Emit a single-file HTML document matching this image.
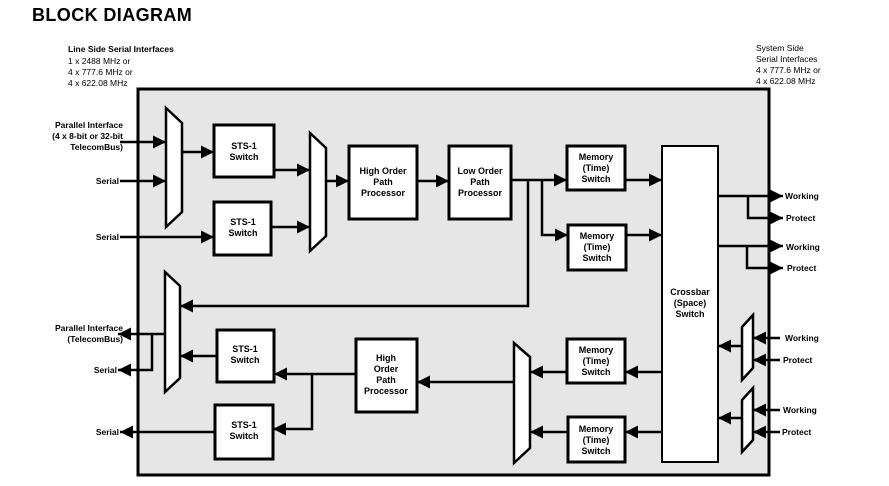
<!DOCTYPE html>
<html><head><style>body{margin:0;background:#fff}svg text{font-family:"Liberation Sans",sans-serif;font-size:9px;fill:#000}</style></head><body>
<svg width="889" height="481" viewBox="0 0 889 481" xmlns="http://www.w3.org/2000/svg">
<defs>
<marker id="b" viewBox="0 0 10 10" markerWidth="13" markerHeight="13" refX="10" refY="5" orient="auto" markerUnits="userSpaceOnUse"><path d="M0,0 L10,5 L0,10Z" fill="#000"/></marker></defs>
<text x="32" y="21" style="font-size:18px;font-weight:bold;letter-spacing:0.4px">BLOCK DIAGRAM</text>
<text x="68" y="52" style="font-weight:bold;font-size:8.5px">Line Side Serial Interfaces</text>
<text x="68" y="64" style="font-size:8.5px">1 x 2488 MHz or</text>
<text x="68" y="75" style="font-size:8.5px">4 x 777.6  MHz or</text>
<text x="68" y="86" style="font-size:8.5px">4 x 622.08 MHz</text>
<text x="756" y="51" style="font-size:8.5px">System Side</text>
<text x="756" y="62" style="font-size:8.5px">Serial Interfaces</text>
<text x="756" y="73" style="font-size:8.5px">4 x 777.6 MHz or</text>
<text x="756" y="84" style="font-size:8.5px">4 x 622.08 MHz</text>
<rect x="138" y="89" width="631" height="386" fill="#e6e6e6" stroke="#000" stroke-width="3"/>
<g stroke="#000" stroke-width="3" fill="#fff">
<path d="M166,108 L182,123 L182,212 L166,227Z" stroke-width="2.5"/>
<path d="M310,133 L326,148 L326,236 L310,251Z" stroke-width="2.5"/>
<path d="M165,392 L180,378 L180,286 L165,272Z" stroke-width="2.5"/>
<path d="M514,463 L530,448 L530,357 L514,343Z" stroke-width="2.5"/>
<path d="M742,380 L753,368 L753,315 L742,327Z" stroke-width="2.5"/>
<path d="M742,452 L753,440 L753,388 L742,400Z" stroke-width="2.5"/>
<rect x="214" y="125" width="60" height="52"/>
<rect x="214" y="202" width="57" height="53"/>
<rect x="349" y="146" width="68" height="73"/>
<rect x="449" y="146" width="62" height="73"/>
<rect x="567" y="146" width="58" height="44"/>
<rect x="568" y="225" width="58" height="45"/>
<rect x="662" y="146" width="56" height="316" stroke-width="2"/>
<rect x="567" y="339" width="58" height="44"/>
<rect x="568" y="417" width="57" height="45"/>
<rect x="356" y="339" width="61" height="73"/>
<rect x="217" y="330" width="57" height="52"/>
<rect x="215" y="405" width="58" height="54"/>
</g>
<g stroke="#000" stroke-width="2.5" fill="none" marker-end="url(#b)">
<path d="M120,142 H166"/><path d="M120,181 H166"/><path d="M120,237 H214"/>
<path d="M182,152 H214"/><path d="M274,170 H310"/><path d="M271,227 H310"/>
<path d="M326,181 H349"/><path d="M417,181 H449"/>
<path d="M511,180 H567"/><path d="M542,180 V235 H568"/>
<path d="M625,180 H662"/><path d="M626,235 H662"/>
<path d="M528,180 V306 H180"/>
<path d="M718,196 H783"/><path d="M748,196 V218 H783"/>
<path d="M718,246 H783"/><path d="M747,246 V268 H783"/>
<path d="M780,338 H753"/><path d="M780,360 H753"/><path d="M742,346 H718"/>
<path d="M780,410 H753"/><path d="M780,432 H753"/><path d="M742,418 H718"/>
<path d="M662,372 H625"/><path d="M567,372 H530"/>
<path d="M662,432 H625"/><path d="M568,432 H530"/>
<path d="M514,382 H417"/>
<path d="M356,374 H274"/><path d="M312,374 V429 H273"/>
<path d="M217,356 H180"/>
<path d="M215,432 H120"/>
<path d="M165,334 H118"/><path d="M152,334 V370 H118"/>
</g>
<g text-anchor="middle" style="font-weight:bold">
<text x="244" y="149">STS-1</text><text x="244" y="160">Switch</text>
<text x="243" y="225">STS-1</text><text x="243" y="236">Switch</text>
<text x="383" y="174">High Order</text><text x="383" y="185">Path</text><text x="383" y="196">Processor</text>
<text x="480" y="174">Low Order</text><text x="480" y="185">Path</text><text x="480" y="196">Processor</text>
<text x="596" y="160">Memory</text><text x="596" y="171">(Time)</text><text x="596" y="182">Switch</text>
<text x="597" y="239">Memory</text><text x="597" y="250">(Time)</text><text x="597" y="261">Switch</text>
<text x="690" y="295">Crossbar</text><text x="690" y="306">(Space)</text><text x="690" y="317">Switch</text>
<text x="596" y="353">Memory</text><text x="596" y="364">(Time)</text><text x="596" y="375">Switch</text>
<text x="596" y="432">Memory</text><text x="596" y="443">(Time)</text><text x="596" y="454">Switch</text>
<text x="386" y="361">High</text><text x="386" y="372">Order</text><text x="386" y="383">Path</text><text x="386" y="394">Processor</text>
<text x="245" y="352">STS-1</text><text x="245" y="363">Switch</text>
<text x="244" y="428">STS-1</text><text x="244" y="439">Switch</text>
</g>
<g text-anchor="end" style="font-weight:bold;font-size:8.5px">
<text x="123" y="128" style="font-size:8.5px">Parallel Interface</text><text x="123" y="139" style="font-size:8.5px">(4 x 8-bit or 32-bit</text><text x="123" y="150" style="font-size:8.5px">TelecomBus)</text>
<text x="119" y="184" style="font-size:8.5px">Serial</text><text x="119" y="240" style="font-size:8.5px">Serial</text>
<text x="123" y="331" style="font-size:8.5px">Parallel Interface</text><text x="123" y="342" style="font-size:8.5px">(TelecomBus)</text>
<text x="117" y="373" style="font-size:8.5px">Serial</text><text x="119" y="435" style="font-size:8.5px">Serial</text>
</g>
<g style="font-weight:bold">
<text x="785" y="199" style="font-size:8.5px">Working</text><text x="786" y="221" style="font-size:8.5px">Protect</text>
<text x="786" y="250" style="font-size:8.5px">Working</text><text x="787" y="271" style="font-size:8.5px">Protect</text>
<text x="785" y="341" style="font-size:8.5px">Working</text><text x="783" y="363" style="font-size:8.5px">Protect</text>
<text x="783" y="413" style="font-size:8.5px">Working</text><text x="782" y="435" style="font-size:8.5px">Protect</text>
</g>
</svg>
</body></html>
